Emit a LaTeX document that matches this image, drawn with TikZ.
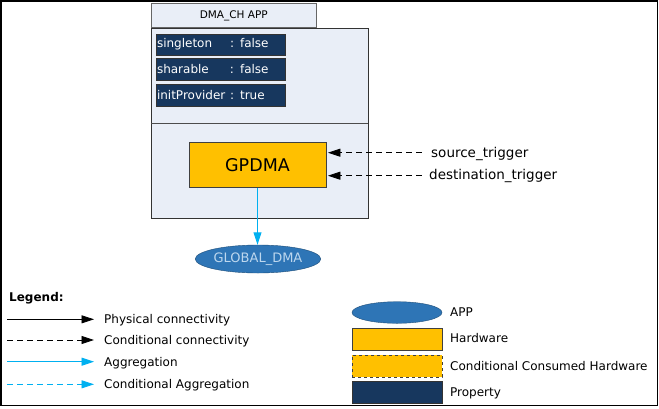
\documentclass[tikz,border=0pt]{standalone}
\usepackage{fontspec}
\setmainfont{DejaVu Sans}
\usetikzlibrary{arrows.meta,shapes.geometric}
\definecolor{appbg}{HTML}{E9EEF7}
\definecolor{propfill}{HTML}{17375E}
\definecolor{hwfill}{HTML}{FFC000}
\definecolor{appfill}{HTML}{2E75B6}
\definecolor{appline}{HTML}{1F4E79}
\definecolor{apptext}{HTML}{BDD7EE}
\definecolor{aggcolor}{HTML}{00B0F0}

\begin{document}
\begin{tikzpicture}[x=1pt, y=-1pt, >={Triangle[length=12.5pt,width=8pt]},
    prop/.style={draw=black!80, fill=propfill, text=white, text width=127pt, inner xsep=1pt, minimum height=21.5pt, align=left, font=\fontsize{12}{14}\selectfont},
    hw/.style={draw=black!75, fill=hwfill},
    app/.style={ellipse, draw=appline, fill=appfill, inner sep=0pt},
    phys/.style={->, black, line width=0.8pt},
    cond/.style={->, black, line width=0.8pt, dash pattern=on 6pt off 4pt},
    agg/.style={->, aggcolor, line width=0.9pt},
    condagg/.style={->, aggcolor, line width=0.8pt, dash pattern=on 6pt off 4pt},
    lbl/.style={inner sep=0pt, anchor=base west, font=\fontsize{12}{14}\selectfont}]
    \useasboundingbox (0,0) rectangle (659,408);
    \draw[line width=1.5pt] (1,1) rectangle (657.5,405.5);

    % app block
    \node[draw=black!60, fill=appbg, minimum width=164.5pt, minimum height=24pt, font=\fontsize{10.5}{12}\selectfont] (header) at (233.75,15.5) {DMA\_CH APP};
    \node[draw=black!80, fill=appbg, minimum width=217pt, minimum height=190pt] (appbox) at (259.5,123) {};
    \draw[black!70] (appbox.west) -- (appbox.east);

    \node[prop] (singleton) at (220.5,44.5) {\makebox[73pt][l]{singleton}: false};
    \node[prop] (sharable) at (220.5,69) {\makebox[73pt][l]{sharable}: false};
    \node[prop] (initprovider) at (220.5,95) {\makebox[73pt][l]{initProvider}: true};

    \node[hw, minimum width=136.5pt, minimum height=45pt, font=\fontsize{17.5}{20}\selectfont] (gpdma) at (257.5,164.8) {GPDMA};
    \node[app, minimum width=124pt, minimum height=28pt, text=apptext, font=\fontsize{13}{15}\selectfont] (globaldma) at (258,259) {GLOBAL\_DMA};

    \node[lbl, font=\fontsize{13.5}{16}\selectfont] (srctrig) at (431,157.3) {source\_trigger};
    \node[lbl, font=\fontsize{13.5}{16}\selectfont] (dsttrig) at (429,179.5) {destination\_trigger};
    \coordinate (srcend) at (421.5,152.7);
    \coordinate (dstend) at (421.5,175.7);

    \draw[cond, shorten >=2pt] (srcend) -- (srcend -| gpdma.east);
    \draw[cond, shorten >=2pt] (dstend) -- (dstend -| gpdma.east);
    \draw[agg] (gpdma.south) -- (gpdma.south |- globaldma.north);

    % legend
    \node[inner sep=0pt, anchor=base west, font=\bfseries\fontsize{12}{14}\selectfont] (legend) at (9,301.5) {Legend:};

    \coordinate (physstart) at (7,319.3);
    \coordinate (condstart) at (7,340);
    \coordinate (aggstart) at (7,361.7);
    \coordinate (condaggstart) at (7,384.3);
    \node[lbl] (physlbl) at (104,323.8) {Physical connectivity};
    \node[lbl] (condlbl) at (104,344.5) {Conditional connectivity};
    \node[lbl] (agglbl) at (104,366.2) {Aggregation};
    \node[lbl] (condagglbl) at (104,388.8) {Conditional Aggregation};
    \draw[phys] (physstart) -- (94,319.3);
    \draw[cond] (condstart) -- (94,340);
    \draw[agg] (aggstart) -- (94,361.7);
    \draw[condagg] (condaggstart) -- (94,384.3);

    \node[app, minimum width=90pt, minimum height=21.6pt] (appkey) at (397,312.5) {};
    \node[hw, minimum width=90pt, minimum height=22pt] (hwkey) at (397,339) {};
    \node[hw, dashed, minimum width=90pt, minimum height=22pt] (condhwkey) at (397,366) {};
    \node[draw=black!80, fill=propfill, minimum width=90pt, minimum height=22pt] (propkey) at (397,392.6) {};
    \node[lbl] (appkeylbl) at (450,316.2) {APP};
    \node[lbl] (hwkeylbl) at (450,342) {Hardware};
    \node[lbl] (condhwkeylbl) at (450,370) {Conditional Consumed Hardware};
    \node[lbl] (propkeylbl) at (450,396.6) {Property};
\end{tikzpicture}
\end{document}
